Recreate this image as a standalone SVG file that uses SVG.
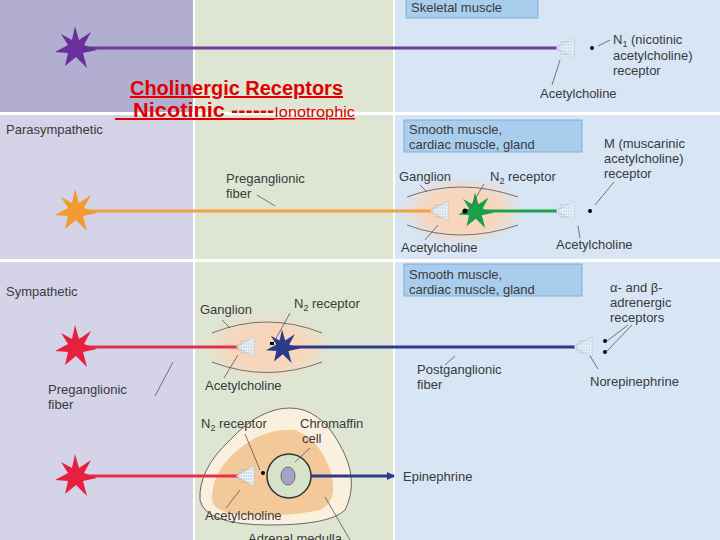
<svg xmlns="http://www.w3.org/2000/svg" width="720" height="540" viewBox="0 0 720 540">
<defs>
<style>
.t{font-family:"Liberation Sans",Arial,sans-serif;font-size:13px;fill:#3a3a3a}
.box{fill:#a9cdec;stroke:#7fb0dc;stroke-width:1}
.lead{stroke:#555;stroke-width:0.8;fill:none}
.r{font-family:"Liberation Sans Narrow","Liberation Sans",Arial,sans-serif;fill:#e00000;font-weight:bold;text-decoration:underline}
</style>
<radialGradient id="glow"><stop offset="0.6" stop-color="#f7d6bd"/><stop offset="1" stop-color="#f7d6bd" stop-opacity="0"/></radialGradient>
<polygon id="star" points="0,-22 4,-8 16,-16 9,-3 22,2 8,5 12,20 1,9 -10,18 -7,5 -20,4 -7,-3 -14,-14 -3,-8"/>
<g id="term"><path d="M0,0 L18,-10 L18,10 Z" fill="#e8f1fa" stroke="#9ab" stroke-width="0.6" stroke-dasharray="1.5,1"/><path d="M2,-3 H17 M2,0 H17 M2,3 H17 M4,-6 H17 M4,6 H17" stroke="#8ab" stroke-width="0.6" stroke-dasharray="1.5,1"/></g>
<marker id="ah" markerWidth="8" markerHeight="8" refX="7" refY="4" orient="auto" markerUnits="userSpaceOnUse"><path d="M0,0 L8,4 L0,8 Z" fill="#2c3a8a"/></marker>
</defs>
<g id="bg">
<rect x="0" y="0" width="193" height="540" fill="#d5d3e8"/>
<rect x="0" y="0" width="193" height="113" fill="#b2aed2"/>
<rect x="195" y="0" width="198" height="540" fill="#dee6d3"/>
<rect x="395" y="0" width="325" height="540" fill="#d7e5f5"/>
<rect x="0" y="112" width="720" height="3" fill="#fff"/>
<rect x="0" y="259" width="720" height="3" fill="#fff"/>
<rect x="193" y="0" width="2" height="540" fill="#fff"/>
<rect x="393" y="0" width="2" height="540" fill="#fff"/>
</g>
<g id="ganglia">
<ellipse cx="462" cy="211" rx="62" ry="34" fill="url(#glow)"/>
<path d="M407,197 Q460,177 518,197" class="lead" stroke-width="1.2"/>
<path d="M407,225 Q460,245 518,225" class="lead" stroke-width="1.2"/>
<ellipse cx="267" cy="347" rx="64" ry="34" fill="url(#glow)"/>
<path d="M212,333 Q267,311 322,333" class="lead" stroke-width="1.2"/>
<path d="M212,362 Q267,383 322,362" class="lead" stroke-width="1.2"/>
<path d="M200,500 Q198,470 230,440 Q260,408 290,408 Q320,408 340,445 Q360,480 345,510 Q330,525 270,525 Q205,525 200,500 Z" fill="#fbf0dd" stroke="#666" stroke-width="1"/>
<path d="M212,498 Q212,470 240,448 Q265,428 295,430 Q320,440 330,470 Q340,500 320,510 Q280,518 240,515 Q212,512 212,498 Z" fill="#f3c99a"/>
<circle cx="289" cy="476" r="22" fill="#d5e3c9" stroke="#333" stroke-width="1.5"/>
<ellipse cx="288" cy="476" rx="7" ry="9" fill="#a7a2c9" stroke="#555" stroke-width="0.8"/>
</g>
<g id="connectors">
<line x1="80" y1="48" x2="557" y2="48" stroke="#6a3d99" stroke-width="3"/>
<line x1="80" y1="211" x2="432" y2="211" stroke="#f2a140" stroke-width="3"/>
<line x1="475" y1="211" x2="557" y2="211" stroke="#1ea24a" stroke-width="3"/>
<line x1="80" y1="347" x2="238" y2="347" stroke="#e23050" stroke-width="3"/>
<line x1="285" y1="347" x2="575" y2="347" stroke="#2c3a8a" stroke-width="3"/>
<line x1="80" y1="476" x2="238" y2="476" stroke="#e23050" stroke-width="3"/>
<line x1="311" y1="476" x2="394" y2="476" stroke="#2c3a8a" stroke-width="3" marker-end="url(#ah)"/>
</g>
<g id="neurons">
<use href="#star" x="75" y="48" fill="#6a2f9a"/>
<use href="#star" x="75" y="211" fill="#f39a30"/>
<use href="#star" x="75" y="347" fill="#e8203f"/>
<use href="#star" x="75" y="476" fill="#e8203f"/>
<g transform="translate(475,211) scale(0.85)"><use href="#star" fill="#1aa048"/></g>
<g transform="translate(282,347) scale(0.8)"><use href="#star" fill="#2c3a8a"/></g>
</g>
<g id="terminals">
<use href="#term" x="556" y="48"/><circle cx="592" cy="48" r="2" fill="#000"/>
<use href="#term" x="430" y="211"/><circle cx="465" cy="211" r="2.5" fill="#000"/>
<use href="#term" x="556" y="211"/><circle cx="590" cy="211" r="2" fill="#000"/>
<use href="#term" x="236" y="347"/><rect x="270" y="342" width="4" height="3" fill="#000"/>
<use href="#term" x="574" y="347"/><circle cx="605" cy="341" r="2" fill="#000"/><circle cx="605" cy="352" r="2" fill="#000"/>
<use href="#term" x="236" y="476"/><circle cx="263" cy="473" r="2" fill="#000"/>
</g>
<g id="labels">
<rect x="406" y="-2" width="132" height="20" class="box"/>
<text x="411" y="12" class="t">Skeletal muscle</text>
<text x="613" y="44" class="t">N<tspan font-size="9" dy="3">1</tspan><tspan dy="-3"> (nicotinic</tspan></text>
<text x="613" y="60" class="t">acetylcholine)</text>
<text x="613" y="75" class="t">receptor</text>
<text x="540" y="98" class="t">Acetylcholine</text>
<path d="M598,46 L610,40 M560,60 L552,85" class="lead"/>
<text x="6" y="134" class="t">Parasympathetic</text>
<rect x="404" y="120" width="178" height="32" class="box"/>
<text x="409" y="134" class="t">Smooth muscle,</text>
<text x="409" y="149" class="t">cardiac muscle, gland</text>
<text x="604" y="148" class="t">M (muscarinic</text>
<text x="604" y="163" class="t">acetylcholine)</text>
<text x="604" y="178" class="t">receptor</text>
<path d="M595,205 L614,182" class="lead"/>
<text x="226" y="183" class="t">Preganglionic</text>
<text x="226" y="198" class="t">fiber</text>
<path d="M257,195 L275,206" class="lead"/>
<text x="399" y="181" class="t">Ganglion</text>
<text x="490" y="181" class="t">N<tspan font-size="9" dy="3">2</tspan><tspan dy="-3"> receptor</tspan></text>
<path d="M484,184 L470,208 M420,185 L427,192" class="lead"/>
<text x="401" y="252" class="t">Acetylcholine</text>
<text x="556" y="249" class="t">Acetylcholine</text>
<path d="M438,225 L425,240 M578,226 L580,238" class="lead"/>
<text x="6" y="296" class="t">Sympathetic</text>
<rect x="404" y="264" width="178" height="32" class="box"/>
<text x="409" y="279" class="t">Smooth muscle,</text>
<text x="409" y="294" class="t">cardiac muscle, gland</text>
<text x="610" y="292" class="t">α- and β-</text>
<text x="610" y="307" class="t">adrenergic</text>
<text x="610" y="322" class="t">receptors</text>
<path d="M607,341 L628,325 M607,351 L632,325 M590,356 L598,369" class="lead"/>
<text x="200" y="314" class="t">Ganglion</text>
<text x="294" y="308" class="t">N<tspan font-size="9" dy="3">2</tspan><tspan dy="-3"> receptor</tspan></text>
<path d="M290,313 L274,342 M222,320 L230,328" class="lead"/>
<text x="205" y="390" class="t">Acetylcholine</text>
<path d="M238,355 L224,378 M173,362 L155,396" class="lead"/>
<text x="48" y="394" class="t">Preganglionic</text>
<text x="48" y="409" class="t">fiber</text>
<text x="417" y="374" class="t">Postganglionic</text>
<text x="417" y="389" class="t">fiber</text>
<text x="590" y="386" class="t">Norepinephrine</text>
<path d="M455,356 L445,365" class="lead"/>
<text x="201" y="428" class="t">N<tspan font-size="9" dy="3">2</tspan><tspan dy="-3"> receptor</tspan></text>
<text x="300" y="428" class="t">Chromaffin</text>
<text x="302" y="443" class="t">cell</text>
<path d="M245,434 L260,470 M310,448 L295,462" class="lead"/>
<text x="403" y="481" class="t">Epinephrine</text>
<text x="205" y="520" class="t">Acetylcholine</text>
<path d="M240,490 L226,508 M325,497 L350,540" class="lead"/>
<text x="248" y="543" class="t">Adrenal medulla</text>
</g>
<g id="title">
<text x="130" y="95" class="r" font-size="20" textLength="213" lengthAdjust="spacingAndGlyphs">Cholinergic Receptors</text>
<text x="115" y="117" class="r" font-size="20" xml:space="preserve" textLength="240" lengthAdjust="spacingAndGlyphs">   Nicotinic ------<tspan font-size="15" font-weight="normal">Ionotrophic</tspan></text>
</g>
</svg>
